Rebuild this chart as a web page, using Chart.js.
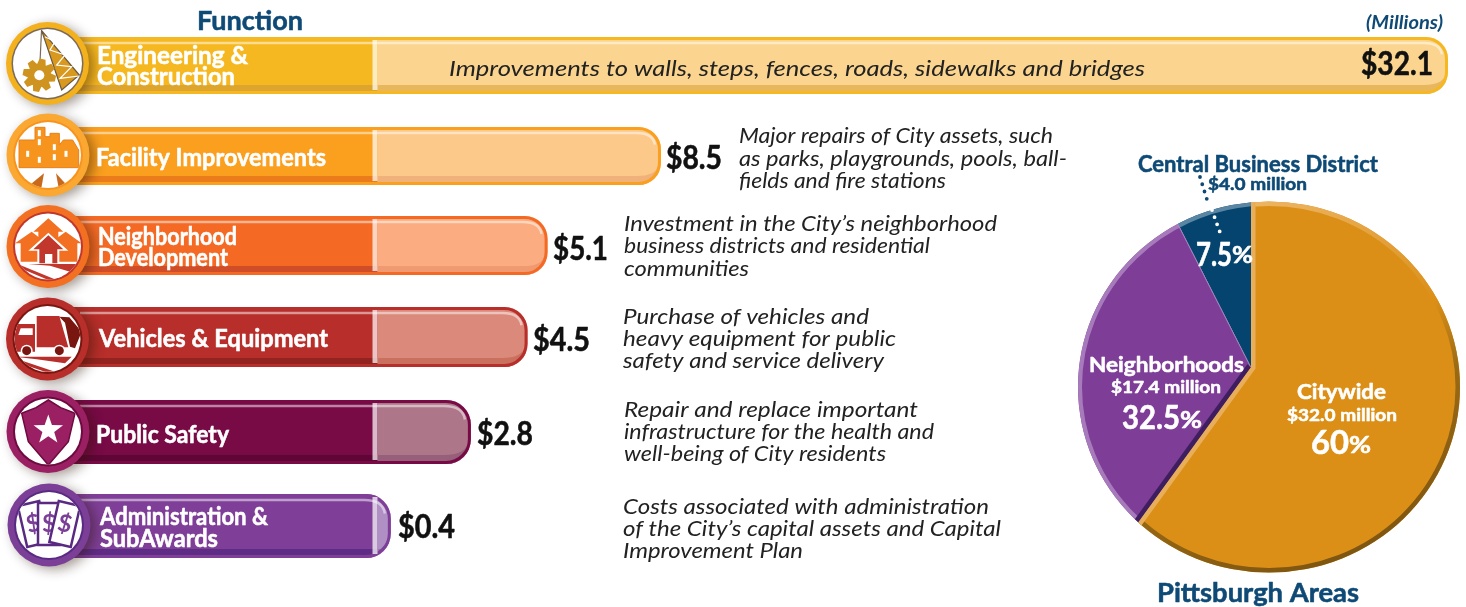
<!DOCTYPE html>
<html><head><meta charset="utf-8">
<script src="https://cdn.jsdelivr.net/npm/chart.js@4"></script>
<style>html,body{margin:0;padding:0;background:#fff;overflow:hidden}
canvas{position:absolute;left:0;top:0}</style></head>
<body><canvas id="bars" width="1466" height="607"></canvas><canvas id="pie" width="1466" height="607"></canvas>
<script>
// ---------- data ----------
const functionNames = ["Engineering & Construction","Facility Improvements","Neighborhood Development","Vehicles & Equipment","Public Safety","Administration & SubAwards"];
const functionValues = [32.1,8.5,5.1,4.5,2.8,0.4];
const areaNames = ["Citywide","Neighborhoods","Central Business District"];
const areaMillions = [32.0,17.4,4.0];
const areaPercents = [60,32.5,7.5];
// ---------- layout / style ----------
const FONT='Lato, "Open Sans", sans-serif';
const NAVY='#0E4A75';
const rowCenters=[65.5,156,245.5,337,432,526];
const rowHeights=[57,58,59,60,64,64];
const mainColors=['#F6B821','#FA9F1E','#F46A25','#B72E2A','#780A46','#7F3F98'];
const bodyColors=['#FBD58F','#FDC98A','#FBAC80','#DB897A','#AD7789','#B08FC4'];
const bandMain=['#DDA42E','#EA7C1C','#CF4D27','#93231F','#5F0636','#5F2C85'];
const bandBody=['#E8B65C','#F0B27A','#F09A72','#C9705F','#96607A','#9675AE'];
const ringColors=['#F3B11E','#FBA832','#F37022','#B72E2A','#9B1F63','#7B3F98'];
const iconCenters=[[47.5,63.5],[48,155],[48,246.5],[47.5,339],[48,431.5],[49,525]];
const labelLayout=[
 [["Engineering &",97,248,56],["Construction",97,235,77]],
 [["Facility Improvements",96,326,158]],
 [["Neighborhood",98,237,237],["Development",98,228,258]],
 [["Vehicles & Equipment",99,328,339]],
 [["Public Safety",96,229,435]],
 [["Administration &",100,268,517],["SubAwards",100,218,539]]];
const descriptions=[
 ["Improvements to walls, steps, fences, roads, sidewalks and bridges",449,1145,69],
 ["Major repairs of City assets, such",739,1053,136],["as parks, playgrounds, pools, ball-",739,1067,159],["fields and fire stations",739,946,181],
 ["Investment in the City\u2019s neighborhood",624,997,224],["business districts and residential",624,930,246],["communities",624,749,269],
 ["Purchase of vehicles and",623,869,317],["heavy equipment for public",623,896,339],["safety and service delivery",623,884,361],
 ["Repair and replace important",624,918,410],["infrastructure for the health and",624,934,432],["well-being of City residents",624,886,454],
 ["Costs associated with administration",623,989,507],["of the City\u2019s capital assets and Capital",623,1001,529],["Improvement Plan",623,803,551]];
const valueSpans=[[1361,1433],[666,722],[553,608],[533,590],[477,533],[398,455]];
const valueY=[65,159,250,341,435,528];

function T(c,text,x0,x1,y,font,color){
  c.save();c.font=font;c.fillStyle=color;c.textBaseline='middle';c.textAlign='left';
  const w=c.measureText(text).width;c.translate(x0,y);c.scale((x1-x0)/w,1);c.fillText(text,0,0);
  if(font.startsWith('bold')){c.strokeStyle=color;c.lineWidth=.55;c.lineJoin='round';c.strokeText(text,0,0);}
  c.restore();
}
function poly(c,pts,fill,stroke,lw){c.beginPath();pts.forEach((p,i)=>i?c.lineTo(p[0],p[1]):c.moveTo(p[0],p[1]));c.closePath();
  if(fill){c.fillStyle=fill;c.fill();} if(stroke){c.strokeStyle=stroke;c.lineWidth=lw||1;c.stroke();}}
const z=(a,oy=0)=>a.map(p=>[p[0]/3,oy+p[1]/3]);
function rect(c,x,y,w,h,f){c.fillStyle=f;c.fillRect(x,y,w,h);}

function drawIcon(c,i){
  const [cx,cy]=iconCenters[i];
  c.save();
  c.shadowColor='rgba(40,20,0,.42)';c.shadowBlur=12;c.shadowOffsetX=5;c.shadowOffsetY=3;
  c.beginPath();c.arc(cx,cy,41.5,0,7);c.fillStyle=ringColors[i];c.fill();
  c.restore();
  const ringIn=['#7B6B58','#F7941E','#C1372B','#7A1610','#6D0A3F','#5A2A82'][i];
  c.beginPath();c.arc(cx,cy,i==0?36:35,0,7);c.fillStyle=ringIn;c.fill();
  c.save();
  c.beginPath();c.arc(cx,cy,i==0?34.5:33,0,7);c.fillStyle='#fff';c.fill();c.clip();
  if(i==0){
    c.strokeStyle='#7B6B58';c.lineWidth=1.2;c.beginPath();c.moveTo(41.5,31);c.lineTo(40,62);c.stroke();
    poly(c,z([[125,92],[238,225],[185,270]]),'#D9981E','#6B5A40',1.2);
    c.strokeStyle='#fff';c.lineWidth=1.2;c.beginPath();z([[135,110],[165,125],[150,150],[195,165],[170,195],[215,200],[180,235],[237,228]]).forEach((p,k)=>k?c.lineTo(p[0],p[1]):c.moveTo(p[0],p[1]));c.stroke();
    const gx=39.3,gy=75.3;c.fillStyle='#CF9420';
    for(let k=0;k<8;k++){c.save();c.translate(gx,gy);c.rotate(k*Math.PI/4+.2);c.beginPath();c.moveTo(-4.5,-10);c.lineTo(-3,-16.5);c.lineTo(3,-16.5);c.lineTo(4.5,-10);c.closePath();c.fill();c.restore();}
    c.beginPath();c.arc(gx,gy,11.5,0,7);c.fill();
    c.beginPath();c.arc(gx,gy,5,0,7);c.fillStyle='#fff';c.fill();
  }
  if(i==1){
    poly(c,z([[57,420],[105,420],[105,382],[135,382],[135,410],[150,410],[150,400],[178,400],[178,435],[190,420],[218,420],[236,450],[236,503],[57,503]]),'#F7941E','#E8801A',1);
    [[118,398],[118,425],[83,460],[118,478],[163,440],[163,470],[198,460]].forEach(p=>rect(c,p[0]/3-1.5,p[1]/3-2.5,3,6,'#fff'));
    poly(c,z([[92,553],[132,520],[122,575]]),'#C8691C');
    poly(c,z([[168,520],[198,553],[178,575]]),'#C8691C');
  }
  if(i==2){
    const O=200,o='#F37022';
    poly(c,z([[145,55],[190,95],[175,95],[175,150],[115,150],[115,95],[100,95]],O),o);
    poly(c,z([[95,95],[140,130],[122,130],[122,185],[62,185],[62,130],[45,130]],O),o);
    poly(c,z([[197,95],[245,130],[232,130],[232,185],[172,185],[172,130],[150,130]],O),o);
    poly(c,z([[145,98],[205,152],[178,152],[178,192],[112,192],[112,152],[85,152]],O),'#fff');
    poly(c,z([[145,106],[190,148],[172,148],[172,190],[118,190],[118,148],[100,148]],O),'#C1372B');
    poly(c,z([[135,162],[157,162],[157,190],[135,190]],O),'#fff');
    poly(c,z([[85,192],[235,192],[210,215],[150,197]],O),'#C1372B');
    poly(c,z([[60,195],[170,240],[145,240],[62,205]],O),'#C1372B');
    poly(c,z([[70,192],[190,228],[175,235],[80,200]],O),'#fff');
  }
  if(i==3){
    const O=200,r='#B72E2A',d='#7A1610';
    poly(c,z([[110,348],[178,348],[205,442],[110,442]],O),r);
    poly(c,z([[178,350],[208,352],[245,395],[225,445],[210,440],[195,368]],O),d);
    poly(c,z([[52,372],[105,372],[105,455],[45,455],[45,400]],O),r);
    poly(c,z([[62,385],[98,385],[98,405],[55,405]],O),'#fff');
    [[80,452],[178,452]].forEach(p=>{c.beginPath();c.arc(p[0]/3,O+p[1]/3,6,0,7);c.fillStyle='#fff';c.fill();c.beginPath();c.arc(p[0]/3,O+p[1]/3,4.5,0,7);c.fillStyle=d;c.fill();});
    poly(c,z([[45,470],[215,470],[195,490],[110,478]],O),r);
    poly(c,z([[60,480],[165,515],[135,515],[60,490]],O),r);
  }
  if(i==4){
    const O=385;
    poly(c,z([[145,45],[182,68],[225,85],[205,170],[145,240],[85,170],[65,85],[108,68]],O),'#9B1F63','#6D0A3F',1.5);
    c.beginPath();
    for(let k=0;k<10;k++){const R=k%2?6.2:15.5,a=-Math.PI/2+k*Math.PI/5;const x=48.3+R*Math.cos(a),y=O+135/3+R*Math.sin(a);k?c.lineTo(x,y):c.moveTo(x,y);}
    c.closePath();c.fillStyle='#fff';c.fill();
  }
  if(i==5){
    [[-13,33,-3],[0,49,0],[13,65,3]].forEach(b=>{
      c.save();c.translate(b[1],523);c.rotate(b[0]*Math.PI/180);
      c.fillStyle='#fff';c.strokeStyle='#5A2A82';c.lineWidth=2.5;c.fillRect(-11,-20,22,42);c.strokeRect(-11,-20,22,42);
      c.font='bold 24px '+FONT;c.fillStyle='#7B3F98';c.textAlign='center';c.textBaseline='middle';c.fillText('$',0,1);
      c.restore();});
  }
  c.restore();
}

// ---------- bar chart ----------
class RowScale extends Chart.CategoryScale{
  static id='rowscale';
  static defaults=Chart.CategoryScale.defaults;
  getPixelForValue(value,index){ if(typeof value!=='number')value=this.parse(value); return rowCenters[value]; }
}
Chart.register(RowScale);

function capsule(c,chart,i){
  const el=chart.getDatasetMeta(1).data[i], head=chart.getDatasetMeta(0).data[i];
  const h=rowHeights[i],top=rowCenters[i]-h/2,left=Math.min(head.x,head.base),right=el.x;
  return {left,right,top,h,bottom:top+h,r:h*0.38,x0:el.base};
}
const barPlugin={id:'barDecor',
  afterDatasetsUpdate(chart){
    chart.data.datasets.forEach((d,k)=>chart.getDatasetMeta(k).data.forEach((el,i)=>{el.height=rowHeights[i];el.y=rowCenters[i];}));
  },
  beforeDatasetDraw(chart){
    const c=chart.ctx;c.save();c.beginPath();
    functionValues.forEach((v,i)=>{const g=capsule(c,chart,i);c.roundRect(g.left,g.top,g.right-g.left,g.h,[0,g.r,g.r,0]);});
    c.clip();
  },
  afterDatasetDraw(chart){chart.ctx.restore();},
  afterDatasetsDraw(chart){
    const c=chart.ctx;
    functionValues.forEach((v,i)=>{
      const g=capsule(c,chart,i);
      c.save();c.beginPath();c.roundRect(g.left,g.top,g.right-g.left,g.h,[0,g.r,g.r,0]);c.clip();
      // lower band
      rect(c,g.left,g.bottom-9,g.x0-g.left,6,bandMain[i]);
      c.beginPath();c.moveTo(g.x0,g.bottom-9);
      const e=Math.max(g.x0+4,g.right-g.r*1.1);
      c.lineTo(e,g.bottom-9);c.quadraticCurveTo(g.right-6,g.bottom-9,g.right-3,g.bottom-g.r*.85);
      c.lineTo(g.right,g.bottom);c.lineTo(g.x0,g.bottom);c.closePath();c.fillStyle=bandBody[i];c.fill();
      // top highlight
      c.strokeStyle='rgba(255,255,255,.5)';c.lineWidth=2.5;c.beginPath();c.moveTo(80,g.top+6);
      c.lineTo(g.right-g.r*1.1,g.top+6);c.quadraticCurveTo(g.right-8,g.top+6,g.right-6,g.top+g.r*.8);c.stroke();
      c.restore();
      // outline
      c.beginPath();c.roundRect(g.left,g.top+1.5,g.right-g.left-1.5,g.h-3,[0,g.r-1,g.r-1,0]);
      c.strokeStyle=mainColors[i];c.lineWidth=3;c.stroke();
      // divider
      c.fillStyle='rgba(255,255,255,.72)';c.fillRect(g.x0-5,g.top+3,5,g.h-7);
      drawIcon(c,i);
      labelLayout[i].forEach(l=>T(c,l[0],l[1],l[2],l[3],'bold 24px '+FONT,'#fff'));
      const s=valueSpans[i];
      T(c,'$'+v.toFixed(1),s[0],s[1],valueY[i],'bold 32px '+FONT,'#111');
    });
    descriptions.forEach(d=>T(c,d[0],d[1],d[2],d[3],'italic 22px '+FONT,'#222'));
    T(c,'Function',197,303,21,'bold 27px '+FONT,NAVY);
    T(c,'(Millions)',1366,1443,23,'italic bold 18px '+FONT,NAVY);
  }
};
new Chart(document.getElementById('bars'),{
  type:'bar',
  data:{labels:functionNames,datasets:[
    {label:'Function',data:functionValues.map(()=>[-10,0]),backgroundColor:mainColors,grouped:false,barThickness:60,borderWidth:0},
    {label:'Capital budget ($ millions)',data:functionValues.map(v=>[0,v]),backgroundColor:bodyColors,grouped:false,barThickness:60,borderWidth:0}
  ]},
  options:{indexAxis:'y',responsive:false,animation:false,events:[],
    layout:{padding:0},
    plugins:{legend:{display:false},tooltip:{enabled:false}},
    scales:{
      x:{type:'linear',min:-11.32,max:32.64,display:false},
      y:{type:'rowscale',display:false}
    }},
  plugins:[barPlugin]
});

// ---------- pie ----------
const RIM={x:1269,y:387,rx:191,ry:185.5};
const sliceColors=['#DB8F17','#7E3D96','#05446F'];
function rimPath(c){c.beginPath();c.ellipse(RIM.x,RIM.y,RIM.rx,RIM.ry,0,0,Math.PI*2);}
function sector(c,a){c.beginPath();c.moveTo(a.x,a.y);c.arc(a.x,a.y,a.outerRadius,a.startAngle,a.endAngle);c.closePath();}
const piePlugin={id:'pieDecor',
  beforeDatasetsDraw(chart){const c=chart.ctx;c.save();rimPath(c);c.clip();},
  afterDatasetsDraw(chart){
    const c=chart.ctx,arcs=chart.getDatasetMeta(0).data;
    const end=(a,ang)=>[a.x+a.outerRadius*Math.cos(ang),a.y+a.outerRadius*Math.sin(ang)];
    // rim shading per slice
    const g0=c.createLinearGradient(1251,200,1400,560);
    g0.addColorStop(0,'#EDB564');g0.addColorStop(.42,'#DB8F17');g0.addColorStop(.6,'#9A6A14');g0.addColorStop(1,'#7A5210');
    [g0,'#A77BBB','#5A86A3'].forEach((st,k)=>{
      const a=arcs[k];c.save();sector(c,a);c.clip();rimPath(c);c.strokeStyle=st;c.lineWidth=k==0?9:8;c.stroke();c.restore();
    });
    // radial edges
    let a=arcs[0];
    c.save();sector(c,a);c.clip();c.strokeStyle='#E9AE5A';c.lineWidth=9;
    c.beginPath();const p1=end(a,a.startAngle),p2=end(a,a.endAngle);c.moveTo(p1[0],p1[1]);c.lineTo(a.x,a.y);c.lineTo(p2[0],p2[1]);c.stroke();c.restore();
    a=arcs[1];
    c.save();sector(c,a);c.clip();c.strokeStyle='#3F1E5F';c.lineWidth=9;
    c.beginPath();const p3=end(a,a.startAngle);c.moveTo(a.x,a.y);c.lineTo(p3[0],p3[1]);c.stroke();
    c.strokeStyle='#A98BC0';c.lineWidth=1.6;c.beginPath();const p4=end(a,a.endAngle);c.moveTo(a.x,a.y);c.lineTo(p4[0],p4[1]);c.stroke();c.restore();
    c.restore(); // end of rim clip
    // leader dots
    c.lineCap='round';c.setLineDash([0,7.6]);c.lineWidth=3.8;
    c.strokeStyle=NAVY;c.beginPath();c.moveTo(1200,177);c.lineTo(1209,206);c.stroke();
    c.strokeStyle='#fff';c.beginPath();c.moveTo(1212,210);c.lineTo(1222,238);c.stroke();
    c.setLineDash([]);c.lineCap='butt';
    // labels
    const m=v=>'$'+v.toFixed(1)+' million';
    const W='#fff';
    T(c,areaNames[2],1138,1378,165,'bold 22px '+FONT,NAVY);
    T(c,m(areaMillions[2]),1208,1307,185,'bold 17px '+FONT,NAVY);
    T(c,areaPercents[2].toFixed(1),1196,1232,255,'bold 33px '+FONT,W);
    T(c,'%',1232,1253,256,'bold 22px '+FONT,W);
    T(c,areaNames[1],1089,1244,365,'bold 21px '+FONT,W);
    T(c,m(areaMillions[1]),1111,1221,388,'bold 17px '+FONT,W);
    T(c,areaPercents[1].toFixed(1),1122,1180,419,'bold 32px '+FONT,W);
    T(c,'%',1180,1202,421,'bold 22px '+FONT,W);
    T(c,areaNames[0],1297,1386,392,'bold 21px '+FONT,W);
    T(c,m(areaMillions[0]),1287,1397,416,'bold 17px '+FONT,W);
    T(c,String(areaPercents[0]),1311,1349,444,'bold 32px '+FONT,W);
    T(c,'%',1349,1371,446,'bold 22px '+FONT,W);
    T(c,'Pittsburgh Areas',1157,1359,593,'bold 27px '+FONT,NAVY);
  }
};
new Chart(document.getElementById('pie'),{
  type:'pie',
  data:{labels:areaNames,datasets:[{data:areaPercents,backgroundColor:sliceColors,borderWidth:0}]},
  options:{responsive:false,animation:false,events:[],radius:225,rotation:0,
    layout:{padding:{left:1036,top:127}},
    plugins:{legend:{display:false},tooltip:{enabled:false}}},
  plugins:[piePlugin]
});
</script></body></html>
